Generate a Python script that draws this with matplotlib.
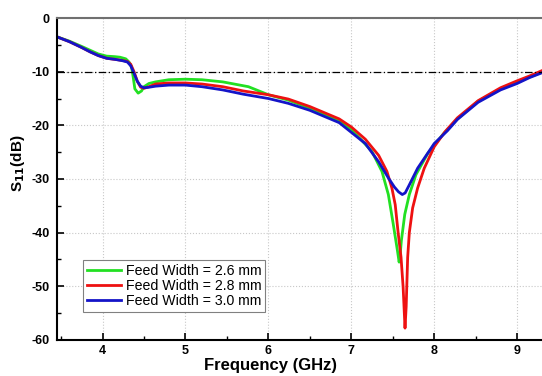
import matplotlib
matplotlib.use("Agg")
import matplotlib.pyplot as plt
from matplotlib.ticker import MultipleLocator

plt.rcParams['font.family'] = ['Liberation Sans', 'DejaVu Sans']
plt.rcParams['axes.unicode_minus'] = False
plt.rcParams['mathtext.default'] = 'bf'

# feed width 2.6 mm
f_26 = [3.45, 3.6, 3.75, 3.85, 3.95, 4.05, 4.15, 4.21, 4.28, 4.32, 4.35, 4.37, 4.39, 4.43,
        4.47, 4.5, 4.56, 4.64, 4.8, 5.0, 5.2, 5.45, 5.76, 6.0, 6.24, 6.5, 6.7, 6.854, 7.0,
        7.12, 7.25, 7.37, 7.447, 7.506, 7.557, 7.577, 7.59, 7.604, 7.645, 7.7, 7.78, 7.92,
        8.11, 8.28, 8.53, 8.8, 9.0, 9.15, 9.3]
s_26 = [-3.5, -4.3, -5.3, -6.0, -6.7, -7.1, -7.2, -7.3, -7.6, -8.2, -9.1, -11.0, -13.2, -14.0,
        -13.6, -12.8, -12.2, -11.9, -11.5, -11.4, -11.5, -11.9, -12.8, -14.3, -15.3, -16.8, -18.2, -19.1, -20.8,
        -22.7, -24.9, -28.6, -32.9, -38.4, -43.4, -45.5, -44.0, -41.5, -36.6, -32.9, -29.2, -25.3,
        -21.6, -18.8, -15.5, -13.2, -11.9, -11.0, -10.1]

# feed width 2.8 mm
f_28 = [3.45, 3.6, 3.75, 3.85, 3.95, 4.05, 4.15, 4.24, 4.3, 4.34, 4.38, 4.42, 4.46, 4.5,
        4.56, 4.64, 4.8, 5.0, 5.2, 5.45, 5.7, 6.0, 6.24, 6.5, 6.7, 6.854, 7.0, 7.17, 7.33,
        7.43, 7.49, 7.53, 7.565, 7.6, 7.625, 7.648, 7.662, 7.68, 7.7, 7.74, 7.8, 7.88, 8.0,
        8.13, 8.28, 8.53, 8.8, 9.0, 9.15, 9.3]
s_28 = [-3.5, -4.4, -5.5, -6.3, -7.0, -7.5, -7.7, -7.9, -8.1, -8.6, -10.0, -11.8, -12.9, -13.1,
        -12.8, -12.3, -12.1, -12.1, -12.3, -12.8, -13.6, -14.3, -15.1, -16.5, -17.8, -18.8, -20.3, -22.6, -25.6,
        -28.6, -31.7, -34.8, -40.0, -44.6, -50.1, -57.8, -53.8, -44.6, -40.0, -35.4, -31.7, -28.0, -24.0,
        -21.2, -18.6, -15.4, -13.0, -11.7, -10.8, -9.8]

# feed width 3.0 mm
f_30 = [3.45, 3.6, 3.75, 3.85, 3.95, 4.05, 4.15, 4.24, 4.3, 4.34, 4.38, 4.42, 4.46, 4.5,
        4.56, 4.64, 4.8, 5.0, 5.2, 5.45, 5.7, 6.0, 6.24, 6.5, 6.7, 6.854, 7.0, 7.17, 7.33,
        7.447, 7.52, 7.57, 7.615, 7.65, 7.7, 7.8, 7.9, 8.0, 8.16, 8.28, 8.53, 8.8, 9.0,
        9.15, 9.3]
s_30 = [-3.5, -4.4, -5.5, -6.3, -7.0, -7.5, -7.7, -7.95, -8.2, -8.9, -10.3, -11.8, -12.7, -13.0,
        -12.9, -12.7, -12.5, -12.5, -12.8, -13.4, -14.2, -15.0, -15.9, -17.2, -18.5, -19.5, -21.3, -23.4, -26.8,
        -29.8, -31.5, -32.4, -32.9, -32.6, -31.1, -28.0, -25.7, -23.4, -21.0, -18.9, -15.7, -13.4, -12.2,
        -11.1, -10.2]

labels = ['Feed Width = 2.6 mm', 'Feed Width = 2.8 mm', 'Feed Width = 3.0 mm']

fig = plt.figure(figsize=(5.42, 3.76), dpi=100)
ax = fig.add_axes([0.105, 0.096, 0.895, 0.856])

ax.plot(f_26, s_26, color='#22e022', lw=2.0, label=labels[0])
ax.plot(f_28, s_28, color='#ee1111', lw=2.0, label=labels[1])
ax.plot(f_30, s_30, color='#1414c8', lw=2.0, label=labels[2])
ax.axhline(-10, color='black', lw=0.9, ls=(0, (6, 2, 1, 2)))

ax.set_xlim(3.45, 9.3)
ax.set_ylim(-60, 0)
ax.xaxis.set_major_locator(MultipleLocator(1))
ax.xaxis.set_minor_locator(MultipleLocator(0.5))
ax.yaxis.set_major_locator(MultipleLocator(10))
ax.yaxis.set_minor_locator(MultipleLocator(5))
ax.tick_params(which='both', direction='in', top=False, right=False)
ax.tick_params(which='major', length=5, width=1.2, labelsize=9)
ax.tick_params(axis='x', which='major', pad=4)
ax.tick_params(axis='y', which='major', pad=5)
ax.tick_params(which='minor', length=3, width=1.0)
for t in ax.get_xticklabels() + ax.get_yticklabels():
    t.set_fontweight('bold')
ax.grid(which='major', color='#c8c8c8', ls=':', lw=0.8)

for s in ['left', 'bottom']:
    ax.spines[s].set_linewidth(1.5)
ax.spines['top'].set_color('#707070')
ax.spines['top'].set_linewidth(1.5)
ax.spines['right'].set_visible(False)

ax.set_xlabel('Frequency (GHz)', fontsize=12, fontweight='bold', va='top')
ax.xaxis.set_label_coords(0.44, -0.057)
ax.set_ylabel('S$_{11}$(dB)', fontsize=11, fontweight='bold')
ax.yaxis.set_label_coords(-0.062, 0.55)

leg = ax.legend(loc='lower left', bbox_to_anchor=(0.054, 0.087), borderaxespad=0,
                fontsize=10.2, handlelength=2.4, handletextpad=0.3, labelspacing=0.05,
                borderpad=0.3, fancybox=False, framealpha=1)
leg.get_frame().set_edgecolor('#808080')
leg.get_frame().set_linewidth(0.8)

fig.savefig('out.png', dpi=100)
